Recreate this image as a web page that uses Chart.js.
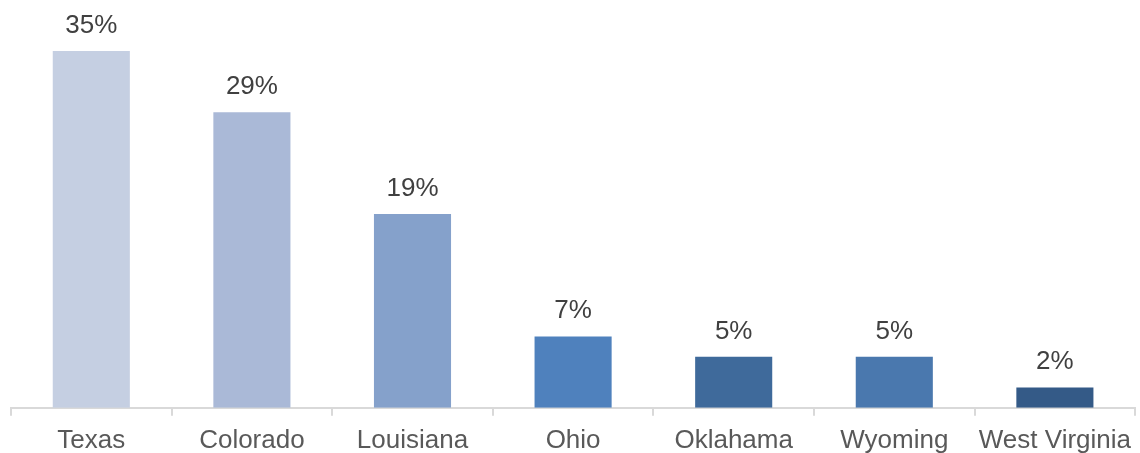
<!DOCTYPE html>
<html>
<head>
<meta charset="utf-8">
<script src="https://cdn.jsdelivr.net/npm/chart.js@4"></script>
<style>
  html, body { margin: 0; padding: 0; background: #fff; }
  #wrap { width: 1140px; height: 453px; }
</style>
</head>
<body>
<div id="wrap"><canvas id="chart"></canvas></div>
<script>
const states = ['Texas', 'Colorado', 'Louisiana', 'Ohio', 'Oklahama', 'Wyoming', 'West Virginia'];
const shares = [35, 29, 19, 7, 5, 5, 2];
const barColors = ['#c5cfe2', '#aab9d7', '#85a1cb', '#4f81bd', '#3f6a9b', '#4a78ae', '#345a87'];

// draws the % labels above each bar
const valueLabels = {
  id: 'valueLabels',
  afterDatasetsDraw(chart) {
    const ctx = chart.ctx;
    const meta = chart.getDatasetMeta(0);
    ctx.save();
    ctx.font = '26px "Liberation Sans", Arial, sans-serif';
    ctx.fillStyle = '#404040';
    ctx.textAlign = 'center';
    ctx.textBaseline = 'alphabetic';
    meta.data.forEach((bar, i) => {
      ctx.fillText(shares[i] + '%', bar.x, bar.y - 18);
    });
    ctx.restore();
  }
};

new Chart(document.getElementById('chart'), {
  type: 'bar',
  data: {
    labels: states,
    datasets: [{
      data: shares,
      backgroundColor: barColors,
      categoryPercentage: 1,
      barPercentage: 0.48
    }]
  },
  options: {
    responsive: true,
    maintainAspectRatio: false,
    animation: false,
    layout: { padding: { left: 11, right: -3, top: 0, bottom: -12 } },
    plugins: {
      legend: { display: false },
      tooltip: { enabled: false }
    },
    scales: {
      x: {
        grid: {
          display: true,
          drawOnChartArea: false,
          tickLength: 8,
          color: '#d9d9d9',
          lineWidth: 2
        },
        border: { color: '#d9d9d9', width: 2 },
        ticks: {
          color: '#595959',
          padding: 9,
          maxRotation: 0,
          autoSkip: false,
          font: { family: '"Liberation Sans", Arial, sans-serif', size: 26 }
        }
      },
      y: {
        display: false,
        min: 0,
        max: 40
      }
    }
  },
  plugins: [valueLabels]
});
</script>
</body>
</html>
